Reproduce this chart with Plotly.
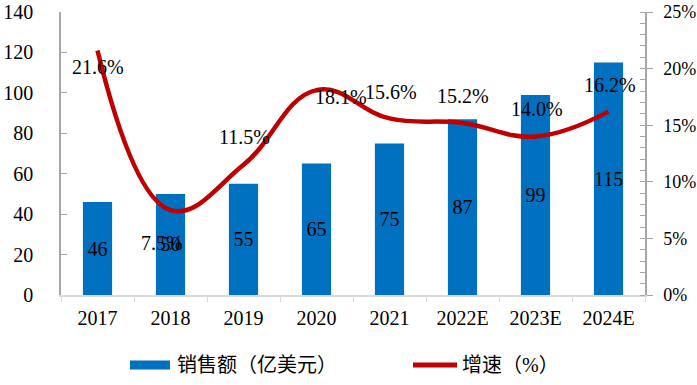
import plotly.graph_objects as go

years = ["2017", "2018", "2019", "2020", "2021", "2022E", "2023E", "2024E"]
sales = [46, 50, 55, 65, 75, 87, 99, 115]
growth = [0.216, 0.075, 0.115, 0.181, 0.156, 0.152, 0.140, 0.162]
sales_name = "销售额（亿美元）"
growth_name = "增速（%）"

# label offsets (pixels) for growth labels: (xshift, yshift)
label_offsets = [(0, -17), (-9, -33), (1, 28), (24, -7), (1, 26), (0, 27), (1, 28), (1, 27)]

FONT = "Liberation Serif, 'Noto Sans CJK SC', serif"
BLUE = "#0070C0"
RED = "#C00000"

W, H = 697, 385
ML, MR, MT, MB = 61, 52, 12, 90
PW, PH = W - ML - MR, H - MT - MB


def px_x(px):
    return (px - ML) / PW


def px_y(py):
    return (H - MB - py) / PH


fig = go.Figure()
fig.add_trace(go.Bar(
    x=years, y=sales, width=0.4, marker=dict(color=BLUE, line=dict(width=0)),
    text=[str(v) for v in sales], textposition="inside", insidetextanchor="middle",
    textangle=0, constraintext="none", textfont=dict(family=FONT, size=20, color="black"),
    showlegend=False, yaxis="y", name=sales_name,
))
fig.add_trace(go.Scatter(
    x=years, y=growth, mode="lines", yaxis="y2",
    line=dict(color=RED, width=4.5, shape="spline", smoothing=1.2),
    name=growth_name, showlegend=False,
))

for i, (g, (dx, dy)) in enumerate(zip(growth, label_offsets)):
    fig.add_annotation(
        x=i, y=g, xref="x", yref="y2", text=f"{g*100:.1f}%", showarrow=False,
        xshift=dx, yshift=dy, font=dict(family=FONT, size=20, color="black"),
    )

# legend (drawn below the plot area)
LEG_Y = px_y(365)
fig.add_shape(type="line", xref="paper", yref="paper", x0=px_x(130), x1=px_x(170),
              y0=LEG_Y, y1=LEG_Y, line=dict(color=BLUE, width=9))
fig.add_annotation(xref="paper", yref="paper", x=px_x(175), y=LEG_Y, text=sales_name,
                   showarrow=False, xanchor="left", yanchor="middle",
                   font=dict(family=FONT, size=20, color="black"))
fig.add_shape(type="line", xref="paper", yref="paper", x0=px_x(413), x1=px_x(457),
              y0=LEG_Y, y1=LEG_Y, line=dict(color=RED, width=5))
fig.add_annotation(xref="paper", yref="paper", x=px_x(460), y=LEG_Y, text=growth_name,
                   showarrow=False, xanchor="left", yanchor="middle",
                   font=dict(family=FONT, size=20, color="black"))

fig.update_layout(
    width=W, height=H,
    margin=dict(l=ML, r=MR, t=MT, b=MB),
    paper_bgcolor="white", plot_bgcolor="white",
    font=dict(family=FONT, size=20, color="black"),
    showlegend=False,
    xaxis=dict(
        type="category", categoryorder="array", categoryarray=years,
        range=[-0.5, len(years) - 0.5], automargin=False,
        tickson="boundaries", ticks="outside", ticklen=5,
        tickcolor="#D9D9D9", showline=True, linecolor="#D9D9D9", linewidth=1.5,
        showgrid=False, tickfont=dict(family=FONT, size=20), ticklabelstandoff=4,
    ),
    yaxis=dict(
        range=[0, 140], dtick=20, ticks="inside", ticklen=6, tickcolor="#A6A6A6",
        showline=True, linecolor="#A6A6A6", linewidth=1.5, showgrid=False, zeroline=False,
        tickfont=dict(family=FONT, size=20), ticklabelstandoff=22, automargin=False,
    ),
    yaxis2=dict(
        range=[0, 0.25], dtick=0.05, tickformat=".0%", overlaying="y", side="right",
        ticks="outside", ticklen=6, tickcolor="#A6A6A6",
        minor=dict(dtick=0.01, ticks="inside", ticklen=5, tickcolor="#A6A6A6"),
        showline=True, linecolor="#A6A6A6", linewidth=1.5, showgrid=False, zeroline=False,
        tickfont=dict(family=FONT, size=18), ticklabelstandoff=7, automargin=False,
    ),
)

fig.write_html("out.html", config={"displayModeBar": False},
               post_script="document.body.style.margin='0px';")
